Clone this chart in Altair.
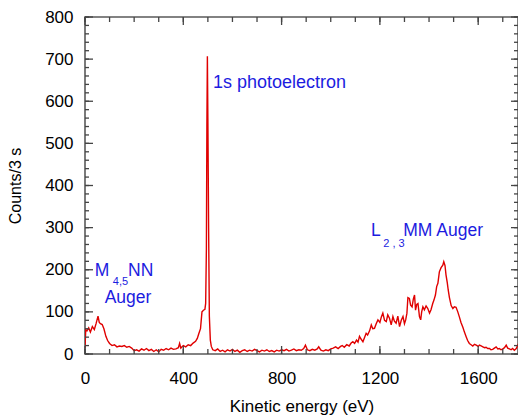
import altair as alt
import pandas as pd

# Spectrum
energy = [0, 3, 8, 15, 22, 30, 38, 45, 53, 58, 63, 70, 77, 85, 92, 100, 110, 120, 130, 140,
          150, 160, 170, 180, 190, 200, 210, 220, 230, 240, 250, 260, 270, 280, 290, 300, 310,
          320, 330, 340, 350, 360, 370, 380, 385, 390, 400, 410, 420, 430, 440, 450, 457, 463,
          470, 476, 482, 488, 491, 494, 496, 498, 500, 503, 506, 510, 514, 520,
          530, 540, 550, 560, 570, 580, 590, 600, 610, 620, 630, 640, 650, 660, 670, 680, 690,
          700, 710, 720, 730, 740, 750, 760, 770, 780, 790, 800, 810, 820, 830, 840, 850, 860,
          870, 880, 890, 897, 905, 915, 925, 935, 945, 951, 960, 970, 980, 990, 1000, 1010,
          1020, 1030, 1040, 1047, 1055, 1065, 1075, 1083, 1090, 1097, 1105, 1111, 1117, 1124,
          1131, 1138, 1144, 1150, 1158, 1165, 1171, 1178, 1185, 1192, 1200, 1206, 1212, 1219,
          1226, 1232, 1239, 1246, 1253, 1259, 1266, 1273, 1280, 1287, 1294, 1300, 1305, 1310,
          1314, 1320, 1325, 1331, 1336, 1341, 1345, 1350, 1355, 1361, 1366, 1370, 1375, 1381,
          1388, 1395, 1402, 1408, 1415, 1420, 1426, 1431, 1436, 1442, 1449, 1456, 1460, 1465,
          1469, 1474, 1478, 1483, 1490, 1497, 1503, 1510, 1517, 1524, 1530, 1538, 1544, 1551,
          1557, 1564, 1571, 1578, 1585, 1592, 1600, 1605, 1612, 1619, 1626, 1632, 1639, 1646,
          1652, 1659, 1666, 1673, 1680, 1686, 1693, 1700, 1707, 1714, 1720, 1727, 1734, 1740,
          1747, 1755, 1761, 1768, 1775, 1780, 1785, 1790]
counts = [15, 58, 55, 62, 52, 65, 58, 72, 90, 75, 72, 70, 60, 42, 32, 25, 20, 22, 17, 19,
          18, 20, 16, 18, 14, 8, 10, 7, 12, 9, 13, 8, 11, 6, 10, 5, 11,
          9, 13, 10, 14, 11, 12, 15, 25, 14, 20, 17, 22, 20, 26, 30, 37, 48,
          60, 100, 104, 106, 120, 250, 541, 707, 560, 300, 90, 33, 18, 10,
          8, 12, 6, 9, 5, 10, 7, 11, 6, 9, 4, 8, 10, 6, 9, 7, 11,
          8, 5, 9, 7, 10, 6, 8, 5, 9, 7, 10, 8, 11, 7, 9, 12, 8,
          10, 9, 13, 21, 10, 8, 11, 9, 12, 17, 9, 7, 10, 8, 12, 14,
          17, 13, 18, 20, 16, 22, 19, 26, 29, 25, 33, 28, 42, 35,
          29, 40, 49, 45, 55, 69, 60, 61, 72, 81, 75, 88, 97, 80,
          77, 93, 85, 69, 89, 78, 73, 90, 65, 80, 89, 72, 81, 97,
          134, 132, 116, 112, 130, 140, 104, 118, 120, 89, 81, 100, 112, 105,
          114, 108, 97, 105, 120, 128, 140, 160, 168, 195, 205, 211, 219, 210,
          188, 170, 152, 134, 115, 108, 112, 111, 100, 87, 75, 63, 52, 41,
          32, 25, 22, 19, 23, 21, 18, 21, 19, 17, 15, 16, 13, 13,
          10, 11, 14, 17, 12, 13, 10, 12, 15, 21, 14, 12, 10, 13,
          9, 13, 21, 12, 6, 15, 5, 2]

# Axis ticks
x_major = [0, 400, 800, 1200, 1600]
x_minor = [0, 100, 200, 300, 400, 500, 600, 700, 800, 900, 1000, 1100, 1200, 1300, 1400,
           1500, 1600, 1700]
y_major = [0, 100, 200, 300, 400, 500, 600, 700, 800]
y_minor = [0, 20, 40, 60, 80, 100, 120, 140, 160, 180, 200, 220, 240, 260, 280, 300, 320,
           340, 360, 380, 400, 420, 440, 460, 480, 500, 520, 540, 560, 580, 600, 620, 640,
           660, 680, 700, 720, 740, 760, 780, 800]

# Annotations (positions in data units)
ann_text = ["1s photoelectron", "M", "4,5", "NN", "Auger", "L", "2 , 3", "MM Auger"]
ann_x = [521, 40, 113, 175, 80, 1164, 1214, 1295]
ann_y = [643, 197, 171, 197, 134, 292, 262, 292]
ann_size = [18, 17.5, 11, 17.5, 17.5, 17.5, 11, 17.5]

W, H = 433, 337
FONT = "Liberation Sans"
TICK = "#444444"

spec = pd.DataFrame({"E": energy, "C": counts})
ann = pd.DataFrame({"t": ann_text, "x": ann_x, "y": ann_y, "s": ann_size})

xs = alt.Scale(domain=[0, 1762], nice=False, zero=False)
ys = alt.Scale(domain=[0, 800], nice=False)

line = alt.Chart(spec).mark_line(color="#e00000", strokeWidth=1.4, clip=True).encode(
    x=alt.X("E:Q", scale=xs, axis=alt.Axis(orient="bottom", values=x_major, ticks=False,
            format="d", labelPadding=16, labelFlush=False, title="Kinetic energy (eV)",
            titlePadding=12)),
    y=alt.Y("C:Q", scale=ys, axis=alt.Axis(orient="left", values=y_major, ticks=False,
            format="d", labelPadding=12, title="Counts/3 s", titlePadding=21,
            titleFontSize=16)),
)


def xticks(vals, y0, y1):
    return alt.Chart(pd.DataFrame({"v": vals})).mark_rule(color=TICK, strokeWidth=1.3).encode(
        x=alt.X("v:Q", scale=xs, axis=None), y=alt.value(y0), y2=alt.value(y1))


def yticks(vals, x0, x1):
    return alt.Chart(pd.DataFrame({"v": vals})).mark_rule(color=TICK, strokeWidth=1.3).encode(
        y=alt.Y("v:Q", scale=ys, axis=None), x=alt.value(x0), x2=alt.value(x1))


ticks = [
    xticks(x_major, H, H - 8), xticks(x_minor, H, H - 5),
    xticks(x_major, 0, 8), xticks(x_minor, 0, 5),
    yticks(y_major, 0, 8), yticks(y_minor, 0, 4),
    yticks(y_major, W, W - 7), yticks(y_minor, W, W - 4),
]

text = alt.Chart(ann).mark_text(color="#1c1ce0", align="left", baseline="middle",
                                font=FONT).encode(
    x=alt.X("x:Q", scale=xs, axis=None),
    y=alt.Y("y:Q", scale=ys, axis=None),
    text="t:N",
    size=alt.Size("s:Q", scale=None, legend=None),
)

chart = alt.layer(line, *ticks, text).resolve_axis(
    x="independent", y="independent"
).properties(
    width=W, height=H,
    autosize=alt.AutoSizeParams(type="none"),
    padding={"left": 77, "top": 9, "right": 0, "bottom": 66},
).configure_view(
    stroke="#5a5a5a", strokeWidth=1.6
).configure_axis(
    labelFont=FONT, labelFontSize=17, labelColor="black",
    titleFont=FONT, titleFontSize=17, titleFontWeight="normal", titleColor="black",
    grid=False, domain=False,
)

chart.save("out.html", embed_options={"renderer": "svg", "actions": False})
